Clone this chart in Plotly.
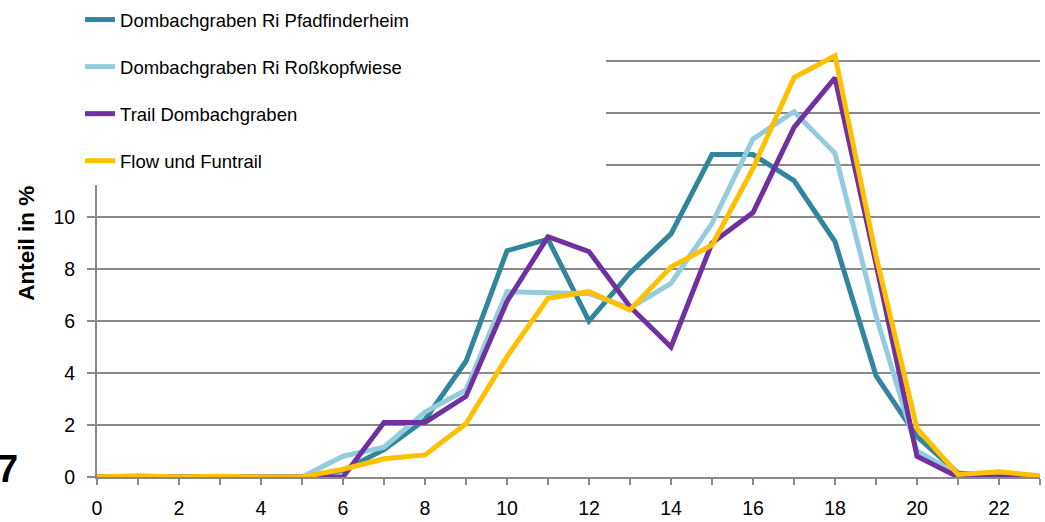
import plotly.graph_objects as go

hours = list(range(24))

pfadfinderheim = [0.0, 0.0, 0.0, 0.0, 0.0, 0.0, 0.25, 1.05, 2.2, 4.45, 8.7, 9.15, 6.0, 7.85, 9.35,
                  12.4, 12.4, 11.4, 9.05, 3.9, 1.55, 0.15, 0.05, 0.0]
rosskopfwiese = [0.0, 0.0, 0.0, 0.0, 0.0, 0.0, 0.8, 1.15, 2.5, 3.35, 7.13, 7.1, 7.05, 6.5, 7.45,
                 9.75, 13.0, 14.05, 12.45, 6.2, 1.0, 0.1, 0.05, 0.0]
trail = [0.0, 0.0, 0.0, 0.0, 0.0, 0.0, 0.0, 2.1, 2.1, 3.1, 6.75, 9.24, 8.67, 6.55, 5.0,
         9.0, 10.17, 13.45, 15.35, 8.2, 0.8, 0.0, 0.0, 0.0]
flow = [0.0, 0.05, 0.0, 0.03, 0.0, 0.0, 0.3, 0.7, 0.85, 2.05, 4.63, 6.87, 7.13, 6.42, 8.08,
        8.92, 11.87, 15.36, 16.2, 8.5, 1.87, 0.1, 0.2, 0.05]

series_names = ["Dombachgraben Ri Pfadfinderheim", "Dombachgraben Ri Roßkopfwiese",
                "Trail Dombachgraben", "Flow und Funtrail"]
series_values = [pfadfinderheim, rosskopfwiese, trail, flow]
series_colors = ["#31859C", "#93CDDD", "#7030A0", "#FFC000"]

x_tickvals = list(range(24))
x_ticktext = [str(v) if v % 2 == 0 else "" for v in x_tickvals]
y_tickvals = [0, 2, 4, 6, 8, 10, 12, 14, 16, 18]
y_ticktext = [str(v) if v <= 10 else "" for v in y_tickvals]

FONT = "Liberation Sans, Arial, sans-serif"
GRID = "#8A8A8A"

fig = go.Figure()
for i, (name, vals, col) in enumerate(zip(series_names, series_values, series_colors)):
    fig.add_trace(go.Scatter(x=hours, y=vals, name=name, mode="lines",
                             line=dict(color=col, width=5), legendgroup=f"g{i}"))

fig.update_layout(
    width=1045, height=522,
    margin=dict(l=97, r=5, t=9, b=45, autoexpand=False),
    paper_bgcolor="white", plot_bgcolor="white",
    font=dict(family=FONT, size=19, color="black"),
    showlegend=True,
    legend=dict(x=-0.018, y=1.017, xanchor="left", yanchor="top",
                bgcolor="rgba(0,0,0,0)", font=dict(size=18.5, family=FONT),
                tracegroupgap=20, itemwidth=30),
    xaxis=dict(range=[0, 23], tickvals=x_tickvals, ticktext=x_ticktext, automargin=False,
               showgrid=False, zeroline=False, showline=True, linecolor=GRID, linewidth=2,
               ticks="outside", ticklen=6, tickwidth=2, tickcolor=GRID,
               ticklabelstandoff=7, tickfont=dict(size=19.5, family=FONT)),
    yaxis=dict(range=[0, 18], tickvals=y_tickvals, ticktext=y_ticktext, automargin=False,
               showgrid=True, gridcolor=GRID, gridwidth=2, zeroline=False,
               showline=True, linecolor=GRID, linewidth=2,
               ticks="outside", ticklen=8, tickwidth=2, tickcolor=GRID,
               ticklabelstandoff=8, tickfont=dict(size=19.5, family=FONT)),
    shapes=[dict(type="rect", xref="paper", yref="paper", x0=-0.03, x1=0.5398,
                 y0=0.624, y1=1.03, fillcolor="white", line=dict(width=0), layer="above")],
    annotations=[
        dict(text="<b>Anteil in %</b>", xref="paper", yref="paper", x=-0.0755, y=0.5,
             xanchor="center", yanchor="middle", textangle=-90, showarrow=False,
             font=dict(size=22.5, family=FONT, color="black")),
        dict(text="<b>7</b>", xref="paper", yref="paper", x=-0.082, y=0.017,
             xanchor="right", yanchor="middle", showarrow=False,
             font=dict(size=38, family=FONT, color="black")),
    ],
)

fig.write_html("out.html", config={"displayModeBar": False},
               post_script="document.body.style.margin='0';document.body.style.overflow='hidden';")
